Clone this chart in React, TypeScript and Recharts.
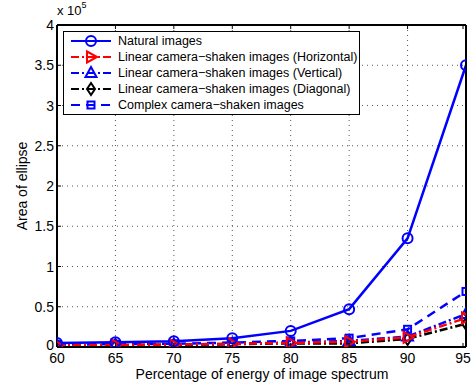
import React from 'react';
import { LineChart, Line, XAxis, YAxis, CartesianGrid } from 'recharts';

const energy = [60, 65, 70, 75, 80, 85, 90, 95];
const natural = [0.05, 0.06, 0.07, 0.11, 0.2, 0.47, 1.35, 3.5];
const horizontal = [0.02, 0.025, 0.03, 0.04, 0.05, 0.065, 0.12, 0.36];
const vertical = [0.02, 0.025, 0.03, 0.04, 0.055, 0.075, 0.13, 0.41];
const diagonal = [0.015, 0.02, 0.025, 0.035, 0.045, 0.045, 0.1, 0.29];
const complex = [0.03, 0.035, 0.04, 0.055, 0.075, 0.11, 0.22, 0.69];
const xTicks = [60, 65, 70, 75, 80, 85, 90, 95];
const yTicks = [0, 0.5, 1, 1.5, 2, 2.5, 3, 3.5, 4];
const SCALE = 100000;

const data = energy.map((e, i) => ({
  e,
  natural: natural[i] * SCALE,
  horizontal: horizontal[i] * SCALE,
  vertical: vertical[i] * SCALE,
  diagonal: diagonal[i] * SCALE,
  complex: complex[i] * SCALE,
}));

const FONT = 'Liberation Sans, Arial, sans-serif';
const BLUE = '#0000ff';
const RED = '#ff0000';
const BLACK = '#000000';

type MK = 'circle' | 'tright' | 'tup' | 'diamond' | 'square';

const marker = (kind: MK, cx: number, cy: number, color: string, key?: any) => {
  const sw = 2;
  if (kind === 'circle') return <circle key={key} cx={cx} cy={cy} r={5} fill="none" stroke={color} strokeWidth={sw} />;
  if (kind === 'square') return <rect key={key} x={cx - 3.5} y={cy - 3.5} width={7} height={7} fill="none" stroke={color} strokeWidth={sw} />;
  if (kind === 'tright') return <polygon key={key} points={`${cx + 6},${cy} ${cx - 4},${cy - 5.5} ${cx - 4},${cy + 5.5}`} fill="none" stroke={color} strokeWidth={sw} />;
  if (kind === 'tup') return <polygon key={key} points={`${cx},${cy - 6} ${cx - 5.5},${cy + 4} ${cx + 5.5},${cy + 4}`} fill="none" stroke={color} strokeWidth={sw} />;
  return <polygon key={key} points={`${cx},${cy - 6} ${cx + 4},${cy} ${cx},${cy + 6} ${cx - 4},${cy}`} fill="none" stroke={color} strokeWidth={sw} />;
};

const dotFn = (kind: MK, color: string) => (props: any) => {
  const { cx, cy, index } = props;
  if (cx == null || cy == null) return <g key={index} />;
  return marker(kind, cx, cy, color, index);
};

const series = [
  { key: 'natural', name: 'Natural images', color: BLUE, dash: undefined as string | undefined, mk: 'circle' as MK },
  { key: 'horizontal', name: 'Linear camera\u2212shaken images (Horizontal)', color: RED, dash: '8 3 2 3', mk: 'tright' as MK },
  { key: 'vertical', name: 'Linear camera\u2212shaken images (Vertical)', color: BLUE, dash: '8 3 2 3', mk: 'tup' as MK },
  { key: 'diagonal', name: 'Linear camera\u2212shaken images (Diagonal)', color: BLACK, dash: '8 3 2 3', mk: 'diamond' as MK },
  { key: 'complex', name: 'Complex camera\u2212shaken images', color: BLUE, dash: '9 6', mk: 'square' as MK },
];

const BottomTick = (props: any) => {
  const { x, y, payload } = props;
  return (
    <g>
      <line x1={x} y1={y} x2={x} y2={y - 4} stroke="#000" strokeWidth={1} />
      <text x={x} y={y + 16} textAnchor="middle" fontSize={14} fontFamily={FONT} fill="#000">{payload.value}</text>
    </g>
  );
};
const TopTick = (props: any) => {
  const { x, y } = props;
  return <line x1={x} y1={y} x2={x} y2={y + 4} stroke="#000" strokeWidth={1} />;
};
const LeftTick = (props: any) => {
  const { x, y, payload } = props;
  const v = payload.value / SCALE;
  return (
    <g>
      <line x1={x} y1={y} x2={x + 4} y2={y} stroke="#000" strokeWidth={1} />
      <text x={x - 3} y={y + (v === 0 ? 3 : 5)} textAnchor="end" fontSize={14} fontFamily={FONT} fill="#000">{String(v)}</text>
    </g>
  );
};
const RightTick = (props: any) => {
  const { x, y } = props;
  return <line x1={x} y1={y} x2={x - 4} y2={y} stroke="#000" strokeWidth={1} />;
};

const LegendBox = () => (
  <div style={{ position: 'absolute', left: 63, top: 31, border: '1px solid #000', background: '#fff', padding: '1px 4px 1px 4px', width: 287, height: 80 }}>
    {series.map((s) => (
      <div key={s.key} style={{ display: 'flex', alignItems: 'center', height: 16 }}>
        <svg width={46} height={16} style={{ display: 'block', flexShrink: 0 }}>
          <line x1={3} y1={8} x2={43} y2={8} stroke={s.color} strokeWidth={2} strokeDasharray={s.dash} />
          {marker(s.mk, 23, 8, s.color)}
        </svg>
        <span style={{ fontFamily: FONT, fontSize: 12.5, color: '#000', marginLeft: 4, whiteSpace: 'nowrap' }}>{s.name}</span>
      </div>
    ))}
  </div>
);

export default function App() {
  return (
    <div style={{ position: 'absolute', left: 0, top: 0, width: 471, height: 386, background: '#fff' }}>
      <LineChart width={471} height={386} data={data} margin={{ top: 24, right: 4, bottom: 0, left: 0 }}>
        <CartesianGrid stroke="#555" strokeDasharray="1 4" strokeWidth={1} />
        <XAxis dataKey="e" type="number" domain={[60, 95]} ticks={xTicks} height={39} tickSize={0} tickMargin={0} tick={<BottomTick />} axisLine={{ stroke: '#000', strokeWidth: 2 }} tickLine={false} allowDataOverflow />
        <XAxis xAxisId="top" orientation="top" dataKey="e" type="number" domain={[60, 95]} ticks={xTicks} height={1} tickSize={0} tickMargin={0} tick={<TopTick />} axisLine={{ stroke: '#000', strokeWidth: 2 }} tickLine={false} />
        <YAxis type="number" domain={[0, 4 * SCALE]} ticks={yTicks.map((t) => t * SCALE)} width={57} tickSize={0} tickMargin={0} tick={<LeftTick />} axisLine={{ stroke: '#000', strokeWidth: 2 }} tickLine={false} allowDataOverflow />
        <YAxis yAxisId="right" orientation="right" type="number" domain={[0, 4 * SCALE]} ticks={yTicks.map((t) => t * SCALE)} width={1} tickSize={0} tickMargin={0} tick={<RightTick />} axisLine={{ stroke: '#000', strokeWidth: 2 }} tickLine={false} />
        {series.slice().reverse().map((s) => (
          <Line key={s.key} type="linear" dataKey={s.key} name={s.name} stroke={s.color} strokeWidth={2.5} strokeDasharray={s.dash} dot={dotFn(s.mk, s.color)} activeDot={false} isAnimationActive={false} />
        ))}
      </LineChart>
      <LegendBox />
      <div style={{ position: 'absolute', left: 57, top: 2, fontFamily: FONT, fontSize: 13, color: '#000', whiteSpace: 'nowrap' }}>
        x 10<sup style={{ fontSize: 9, position: 'relative', top: -2 }}>5</sup>
      </div>
      <div style={{ position: 'absolute', left: 22, top: 186, transform: 'translate(-50%, -50%) rotate(-90deg)', fontFamily: FONT, fontSize: 14, lineHeight: '15px', color: '#000', whiteSpace: 'nowrap' }}>
        Area of ellipse
      </div>
      <div style={{ position: 'absolute', left: 262, top: 367, transform: 'translateX(-50%)', fontFamily: FONT, fontSize: 14, lineHeight: '15px', color: '#000', whiteSpace: 'nowrap' }}>
        Percentage of energy of image spectrum
      </div>
    </div>
  );
}
